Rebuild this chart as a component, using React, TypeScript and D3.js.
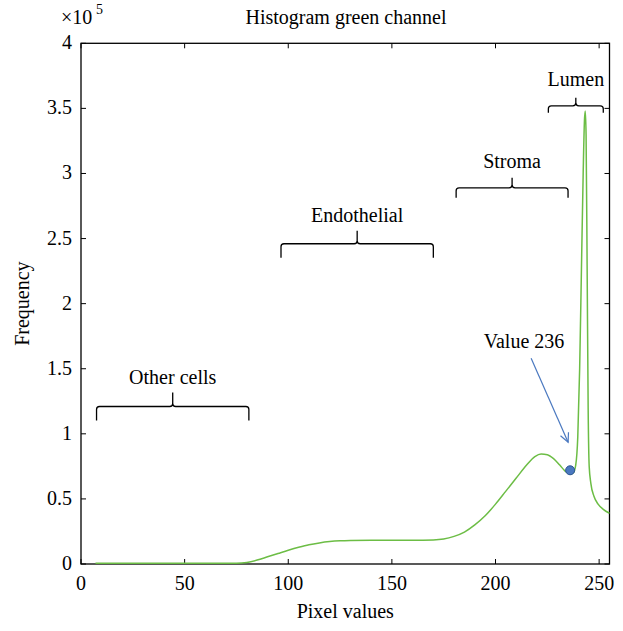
import React from "react";
import * as d3 from "d3";

const pixelValues = [7, 20, 40, 60, 75, 80, 85, 90, 95, 100, 105, 110, 115, 120, 125, 130, 140, 150, 160, 170, 175, 180, 185, 190, 195, 200, 205, 210, 215, 219, 222, 225, 228, 231, 233.5, 236, 237.5, 238.7, 239.7, 240.6, 241.5, 242.3, 242.9, 243.3, 243.7, 244.2, 244.7, 245.2, 246, 247.5, 249.5, 252, 255];
const frequency = [0.005, 0.005, 0.005, 0.005, 0.006, 0.012, 0.03, 0.055, 0.08, 0.105, 0.128, 0.148, 0.162, 0.172, 0.178, 0.181, 0.183, 0.183, 0.183, 0.185, 0.192, 0.212, 0.245, 0.3, 0.37, 0.46, 0.56, 0.66, 0.76, 0.825, 0.845, 0.84, 0.81, 0.76, 0.715, 0.69, 0.7, 0.76, 0.98, 1.5, 2.3, 3.0, 3.4, 3.48, 3.3, 2.3, 1.2, 0.75, 0.62, 0.52, 0.46, 0.42, 0.39];

const xTicks = [0, 50, 100, 150, 200, 250];
const yTicks = [0, 0.5, 1, 1.5, 2, 2.5, 3, 3.5, 4];

const braceLabels = ["Other cells", "Endothelial", "Stroma", "Lumen"];
const braceStart = [7.5, 96.5, 181, 225.5];
const braceEnd = [81, 170, 235, 252];
const braceLevel = [1.21, 2.46, 2.89, 3.52];

const markerX = 236;
const markerY = 0.72;

export default function App() {
  const W = 623, H = 631;
  const left = 81, right = 609.5, top = 43.3, bottom = 564;
  const x = d3.scaleLinear().domain([0, 255]).range([left, right]);
  const y = d3.scaleLinear().domain([0, 4]).range([bottom, top]);
  const pts: [number, number][] = pixelValues.map((v, i) => [v, frequency[i]]);
  const line = d3.line<[number, number]>().x(d => x(d[0])).y(d => y(d[1])).curve(d3.curveMonotoneX);
  const fs = { fontFamily: "Liberation Serif, DejaVu Serif, serif", fontSize: 20 } as React.CSSProperties;
  const tl = 5;

  const brace = (x1: number, x2: number, yl: number, drop: number, tip: number) => {
    const X1 = x(x1), X2 = x(x2), Y = y(yl), C = (X1 + X2) / 2;
    const r = 3;
    return `M${X1},${Y + drop} L${X1},${Y + r} Q${X1},${Y} ${X1 + r},${Y} L${C - r},${Y} Q${C},${Y} ${C},${Y - r} L${C},${Y - tip} M${C},${Y - r} Q${C},${Y} ${C + r},${Y} L${X2 - r},${Y} Q${X2},${Y} ${X2},${Y + r} L${X2},${Y + drop}`;
  };
  const drops = [14, 14, 10, 7];
  const tips = [14, 13, 10, 8];
  const textOff = [22, 22, 20, 20];

  const ax0 = x(markerX) - 39, ay0 = y(markerY) - 112;
  const ax1 = x(markerX) - 2, ay1 = y(markerY) - 28;
  const ang = Math.atan2(ay1 - ay0, ax1 - ax0);
  const ah = 10, aw = 0.45;
  const h1 = [ax1 - ah * Math.cos(ang - aw), ay1 - ah * Math.sin(ang - aw)];
  const h2 = [ax1 - ah * Math.cos(ang + aw), ay1 - ah * Math.sin(ang + aw)];

  return (
    <svg width={W} height={H} style={{ position: "absolute", left: 0, top: 0 }}>
      <rect width={W} height={H} fill="#fff" />
      <text x={346} y={24} textAnchor="middle" style={fs}>Histogram green channel</text>
      <text x={61} y={24} style={fs}>×10</text>
      <text x={96} y={14} style={{ ...fs, fontSize: 14 }}>5</text>
      {xTicks.map(t => (
        <g key={"x" + t}>
          <line x1={x(t)} x2={x(t)} y1={bottom} y2={bottom - tl} stroke="#000" />
          <line x1={x(t)} x2={x(t)} y1={top} y2={top + tl} stroke="#000" />
          <text x={x(t)} y={bottom + 26} textAnchor="middle" style={fs}>{t}</text>
        </g>
      ))}
      {yTicks.map(t => (
        <g key={"y" + t}>
          <line x1={left} x2={left + tl} y1={y(t)} y2={y(t)} stroke="#000" />
          <line x1={right} x2={right - tl} y1={y(t)} y2={y(t)} stroke="#000" />
          <text x={left - 9} y={y(t) + 6} textAnchor="end" style={fs}>{t}</text>
        </g>
      ))}
      <rect x={left} y={top} width={right - left} height={bottom - top} fill="none" stroke="#000" strokeWidth={1.3} />
      <text x={x(127.5)} y={618} textAnchor="middle" style={fs}>Pixel values</text>
      <text transform={`translate(29,${(top + bottom) / 2}) rotate(-90)`} textAnchor="middle" style={fs}>Frequency</text>
      <path d={line(pts) || ""} fill="none" stroke="#6cbd45" strokeWidth={1.5} />
      {braceLabels.map((lab, i) => (
        <g key={lab}>
          <path d={brace(braceStart[i], braceEnd[i], braceLevel[i], drops[i], tips[i])} fill="none" stroke="#000" strokeWidth={1.3} />
          <text x={(x(braceStart[i]) + x(braceEnd[i])) / 2} y={y(braceLevel[i]) - textOff[i]} textAnchor="middle" style={fs}>{lab}</text>
        </g>
      ))}
      <text x={524} y={348} textAnchor="middle" style={fs}>Value 236</text>
      <line x1={ax0} y1={ay0} x2={ax1} y2={ay1} stroke="#4a78c0" strokeWidth={1.2} />
      <path d={`M${h1[0]},${h1[1]} L${ax1},${ay1} L${h2[0]},${h2[1]}`} fill="none" stroke="#4a78c0" strokeWidth={1.2} />
      <circle cx={x(markerX)} cy={y(markerY)} r={4.5} fill="#4a78c0" stroke="#2f5597" strokeWidth={1} />
    </svg>
  );
}
